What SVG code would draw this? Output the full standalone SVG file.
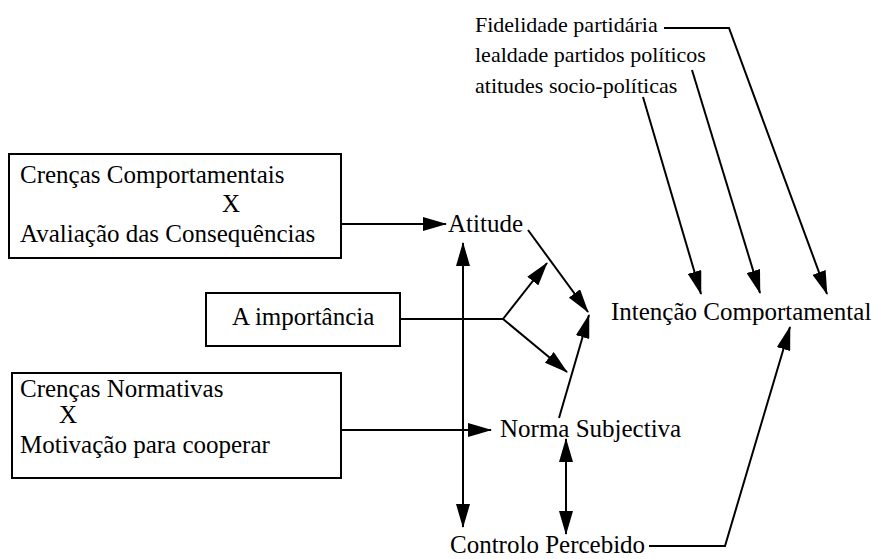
<svg xmlns="http://www.w3.org/2000/svg" width="877" height="559" viewBox="0 0 877 559">
<defs>
<style>
text{font-family:"Liberation Serif","Times New Roman",serif;font-size:25px;fill:#000}
.top{font-size:22px}
.box{fill:#fff;stroke:#000;stroke-width:2}
.ln{fill:none;stroke:#000;stroke-width:2}
.ar{marker-end:url(#ah)}
.dbl{marker-start:url(#ah);marker-end:url(#ah)}
</style>
<marker id="ah" markerWidth="24" markerHeight="14" refX="23" refY="7" orient="auto-start-reverse" markerUnits="userSpaceOnUse">
<path d="M0,0 L24,7 L0,14 Z" fill="#000"/>
</marker>
</defs>
<rect width="877" height="559" fill="#fff"/>
<g id="connectors">
<path class="ln ar" d="M341,224 L446,224"/>
<path class="ln ar" d="M341,430 L491,430"/>
<path class="ln dbl" d="M463,243 L463,527"/>
<path class="ln" d="M400,319 L503,319"/>
<path class="ln ar" d="M503,319 L547,263"/>
<path class="ln ar" d="M503,319 L567,372"/>
<path class="ln ar" d="M528,230 L588,312"/>
<path class="ln ar" d="M559,418 L589,315"/>
<path class="ln dbl" d="M566,439 L566,534"/>
<path class="ln ar" d="M649,546 L725,546 L790,327"/>
<path class="ln ar" d="M664,28 L729,28 L827,294"/>
<path class="ln ar" d="M692,70 L760,293"/>
<path class="ln ar" d="M643,97 L701,294"/>
</g>
<g id="node-crencas-comportamentais">
<rect class="box" x="9" y="154" width="332" height="104"/>
<text x="20" y="183">Crenças Comportamentais</text>
<text x="222" y="212">X</text>
<text x="20" y="242">Avaliação das Consequências</text>
</g>
<g id="node-importancia">
<rect class="box" x="206" y="293" width="194" height="53"/>
<text x="232" y="325">A importância</text>
</g>
<g id="node-crencas-normativas">
<rect class="box" x="12" y="373" width="329" height="105"/>
<text x="20" y="397">Crenças Normativas</text>
<text x="59" y="423">X</text>
<text x="20" y="453">Motivação para cooperar</text>
</g>
<g id="node-atitude"><text x="448" y="232">Atitude</text></g>
<g id="node-norma"><text x="500" y="437">Norma Subjectiva</text></g>
<g id="node-controlo"><text x="450" y="553">Controlo Percebido</text></g>
<g id="node-intencao"><text x="611" y="320">Intenção Comportamental</text></g>
<g id="node-fidelidade"><text class="top" x="475" y="32">Fidelidade partidária</text></g>
<g id="node-lealdade"><text class="top" x="475" y="62">lealdade partidos políticos</text></g>
<g id="node-atitudes"><text class="top" x="475" y="93">atitudes socio-políticas</text></g>
</svg>
